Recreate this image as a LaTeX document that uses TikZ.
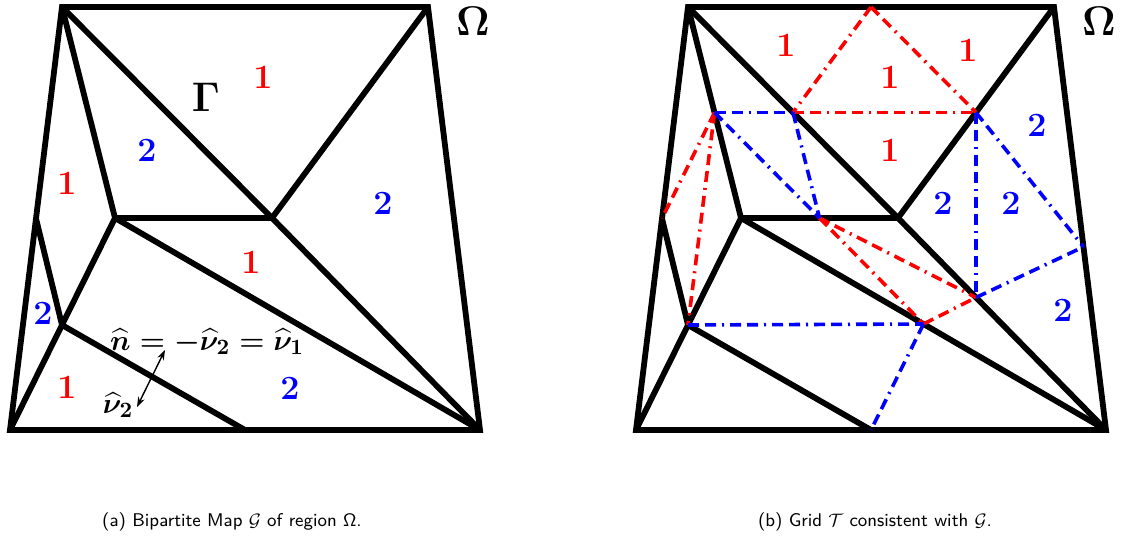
\documentclass[tikz,border=0pt]{standalone}
\usepackage{amsmath,bm}
\usetikzlibrary{calc,arrows.meta}
\tikzset{
  edge/.style={line width=2.9pt, black, line join=miter},
  gridline/.style={line width=1.8pt, dash pattern=on 5.5pt off 3pt on 5.5pt off 3pt on 1pt off 3pt},
  redgrid/.style={gridline, red},
  bluegrid/.style={gridline, blue},
  lab/.style={font=\fontsize{17}{20}\selectfont\bfseries, inner sep=0pt},
  one/.style={lab, text=red},
  two/.style={lab, text=blue},
  biglab/.style={font=\fontsize{22}{24}\selectfont\boldmath, inner sep=0pt},
  mathlab/.style={font=\fontsize{15}{18}\selectfont\boldmath, inner sep=0pt},
  caplab/.style={font=\fontsize{9.2}{11}\selectfont\sffamily, inner sep=0pt},
}
\newcommand\drawpanel[1]{%
  \coordinate (A#1) at (62,7);
  \coordinate (B#1) at (428,7);
  \coordinate (C#1) at (10,430);
  \coordinate (D#1) at (480,430);
  \coordinate (E#1) at ($(A#1)!0.5!(C#1)$);
  \coordinate (F#1) at (115,218);
  \coordinate (G#1) at (272,218);
  \coordinate (H#1) at (62,325);
  \coordinate (I#1) at ($(C#1)!0.5!(D#1)$);
  \draw[edge] (A#1) -- (B#1) -- (D#1) -- (C#1) -- (E#1) -- cycle;
  \draw[edge] (A#1) -- (F#1);
  \draw[edge] (A#1) -- (G#1);
  \draw[edge] (G#1) -- (B#1);
  \draw[edge] (F#1) -- (G#1);
  \draw[edge] (F#1) -- (D#1);
  \draw[edge] (G#1) -- (D#1);
  \draw[edge] (E#1) -- (H#1);
  \draw[edge] (F#1) -- (H#1);
  \draw[edge] (H#1) -- (C#1);
  \draw[edge] (H#1) -- (I#1);
  \node[biglab] (Om#1) at (473,21) {$\Omega$};
}
\begin{document}
\begin{tikzpicture}[x=0.5pt, y=-0.5pt]
\useasboundingbox (0,0) rectangle (1121,541);

% ---------- panel (a) ----------
\drawpanel{a}
\node[biglab] (Gam) at (206,97) {$\Gamma$};
\node[one] (a1) at (263,77) {1};
\node[two] (a2) at (147,150) {2};
\node[one] (a3) at (67,183) {1};
\node[two] (a4) at (383,203) {2};
\node[one] (a5) at (251,262) {1};
\node[two] (a6) at (43,313) {2};
\node[one] (a7) at (67,387) {1};
\node[two] (a8) at (290,388) {2};
\node[mathlab, anchor=base] (nlab) at (207,350) {$\widehat{n} = -\widehat{\nu}_{2} = \widehat{\nu}_{1}$};
\node[mathlab] (nu2) at (118,405) {$\widehat{\nu}_{2}$};
\coordinate (arT) at (165,350);
\coordinate (arB) at (137,407);
\draw[line width=0.7pt, {Stealth[length=5pt,width=3.5pt]}-{Stealth[length=5pt,width=3.5pt]}] (arT) -- (arB);

% ---------- panel (b) ----------
\begin{scope}[xshift=313pt]
\drawpanel{b}
\end{scope}
\coordinate (T) at ($(Ab)!0.5!(Bb)$);
\coordinate (P1) at ($(Ab)!0.5!(Gb)$);
\coordinate (P2) at ($(Gb)!0.5!(Bb)$);
\coordinate (P3) at ($(Ab)!0.5!(Fb)$);
\coordinate (M) at ($(Fb)!0.5!(Gb)$);
\coordinate (R) at ($(Fb)!0.5!(Db)$);
\coordinate (Q) at ($(Gb)!0.375!(Db)$);
\coordinate (S) at ($(Bb)!0.567!(Db)$);
% red grid
\draw[redgrid] (T) -- (P1);
\draw[redgrid] (T) -- (P2);
\draw[redgrid] (P1) -- (P2);
\draw[redgrid] (P3) -- (Eb);
\draw[redgrid] (P3) -- (Hb);
\draw[redgrid] (M) -- (Q);
\draw[redgrid] (M) -- (R);
\draw[redgrid] (R) -- (Q);
% blue grid
\draw[bluegrid] (P3) -- (P1);
\draw[bluegrid] (P3) -- (M);
\draw[bluegrid] (P1) -- (M);
\draw[bluegrid] (P2) -- (Q);
\draw[bluegrid] (P2) -- (S);
\draw[bluegrid] (Q) -- (S);
\draw[bluegrid] (Hb) -- (R);
\draw[bluegrid] (R) -- (Ib);

\node[one] (b1) at (786,45) {1};
\node[one] (b2) at (890,77) {1};
\node[one] (b3) at (968,50) {1};
\node[two] (b4) at (1037,125) {2};
\node[one] (b5) at (890,150) {1};
\node[two] (b6) at (943,203) {2};
\node[two] (b7) at (1011,203) {2};
\node[two] (b8) at (1063,310) {2};

% ---------- captions ----------
\node[caplab] (capa) at (232,522) {(a) Bipartite Map $\mathcal{G}$ of region $\mathsf{\Omega}$.};
\node[caplab] (capb) at (875,522) {(b) Grid $\mathcal{T}$ consistent with $\mathcal{G}$.};
\end{tikzpicture}
\end{document}
